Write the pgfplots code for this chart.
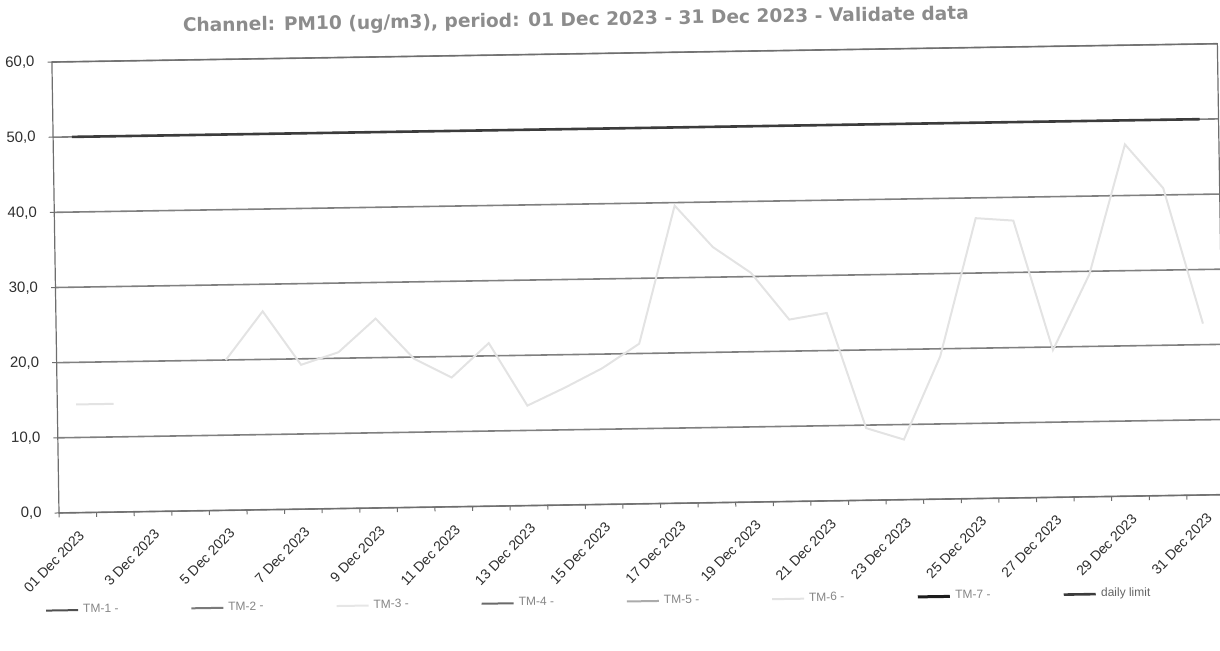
\documentclass[border=0pt]{standalone}
\usepackage{pgfplots}
\pgfplotsset{compat=1.18}
\usepackage{fontspec}
\setmainfont{Liberation Sans}
\newfontfamily\titlefont{DejaVu Sans}

\definecolor{titlegray}{HTML}{8C8C8C}
\definecolor{gridgray}{HTML}{808080}
\definecolor{framegray}{HTML}{6E6E6E}
\definecolor{labelgray}{HTML}{2E2E2E}
\definecolor{legtext}{HTML}{858585}
\definecolor{tmone}{HTML}{505050}
\definecolor{tmtwo}{HTML}{7A7A7A}
\definecolor{tmthree}{HTML}{E6E6E6}
\definecolor{tmfour}{HTML}{6A6A6A}
\definecolor{tmfive}{HTML}{ABABAB}
\definecolor{tmsix}{HTML}{E3E3E3}
\definecolor{tmseven}{HTML}{1C1C1C}
\definecolor{limitgray}{HTML}{3C3C3C}

% PM10 daily means, December 2023 (TM-6 is the only station with data)
\pgfplotstableread{
day  pm
1    14.4
2    14.4
3    nan
4    nan
5    20.0
6    26.4
7    19.2
8    20.8
9    25.2
10   19.8
11   17.2
12   21.7
13   13.3
14   15.6
15   18.1
16   21.3
17   39.6
18   34.0
19   30.5
20   24.2
21   25.0
22   9.6
23   8.0
24   19.0
25   37.3
26   36.9
27   19.6
28   29.6
29   46.8
30   40.9
31   22.8
}\tmsixdata

\begin{document}
\begin{tikzpicture}
\begin{scope}[rotate=0.9, transform shape]
\begin{axis}[
  at={(1pt,0pt)}, anchor=south west,
  scale only axis, width=582.8pt, height=225.5pt,
  xmin=0.5, xmax=31.5, ymin=0, ymax=60,
  axis line style={draw=framegray, line width=0.6pt},
  tick align=outside, major tick length=2.2pt,
  xtick pos=bottom, ytick pos=left,
  tick style={draw=framegray, line width=0.5pt},
  xtick={0.5,1.5,...,31.5}, xticklabels={},
  extra x ticks={1,3,...,31},
  extra x tick labels={01 Dec 2023,3 Dec 2023,5 Dec 2023,7 Dec 2023,9 Dec 2023,11 Dec 2023,13 Dec 2023,15 Dec 2023,17 Dec 2023,19 Dec 2023,21 Dec 2023,23 Dec 2023,25 Dec 2023,27 Dec 2023,29 Dec 2023,31 Dec 2023},
  extra x tick style={major tick length=0pt},
  x tick label style={rotate=45, anchor=north east, font=\fontsize{7}{8}\selectfont, text=labelgray},
  xticklabel shift=3.5pt,
  ytick={0,10,...,60},
  y tick label style={font=\fontsize{7.5}{9}\selectfont, text=labelgray, xshift=-3pt,
    /pgf/number format/.cd, fixed, fixed zerofill, precision=1, use comma, assume math mode=true},
  ymajorgrids, major grid style={draw=gridgray, line width=0.8pt},
  title={Channel: PM10 (ug/m3), period: 01 Dec 2023 - 31 Dec 2023 - Validate data},
  title style={at={(axis description cs:0.45,1)}, anchor=base, yshift=8pt,
    font=\titlefont\bfseries\fontsize{9.3}{11}\selectfont, text=titlegray},
  unbounded coords=jump,
  legend columns=8,
  legend cell align=left,
  legend image code/.code={\draw[#1] (0pt,0pt) -- (16pt,0pt);},
  legend style={at={(axis description cs:-0.0135,-0.216)}, anchor=west, rotate=-0.4,
    draw=none, fill=none, font=\fontsize{6}{7}\selectfont, text=legtext,
    inner sep=0pt},
]
\addlegendimage{draw=tmone, line width=1pt}
\addlegendentry{\makebox[51.6pt][l]{TM-1 -}}
\addlegendimage{draw=tmtwo, line width=1pt}
\addlegendentry{\makebox[51.6pt][l]{TM-2 -}}
\addlegendimage{draw=tmthree, line width=1pt}
\addlegendentry{\makebox[51.6pt][l]{TM-3 -}}
\addlegendimage{draw=tmfour, line width=1pt}
\addlegendentry{\makebox[51.6pt][l]{TM-4 -}}
\addlegendimage{draw=tmfive, line width=1pt}
\addlegendentry{\makebox[51.6pt][l]{TM-5 -}}
\addplot[draw=tmsix, line width=1pt, mark=none] table[x=day, y=pm] {\tmsixdata};
\addlegendentry{\makebox[51.6pt][l]{TM-6 -}}
\addlegendimage{draw=tmseven, line width=1.5pt}
\addlegendentry{\makebox[51.6pt][l]{TM-7 -}}
\addplot[draw=limitgray, line width=1.3pt, mark=none] coordinates {(1,50) (31,50)};
\addlegendentry{\makebox[51.6pt][l]{\textcolor{limitgray!80}{daily limit}}}
\end{axis}
\end{scope}
\pgfresetboundingbox
\useasboundingbox (-28.5pt,-69pt) rectangle (581.5pt,256.5pt);
\end{tikzpicture}
\end{document}
